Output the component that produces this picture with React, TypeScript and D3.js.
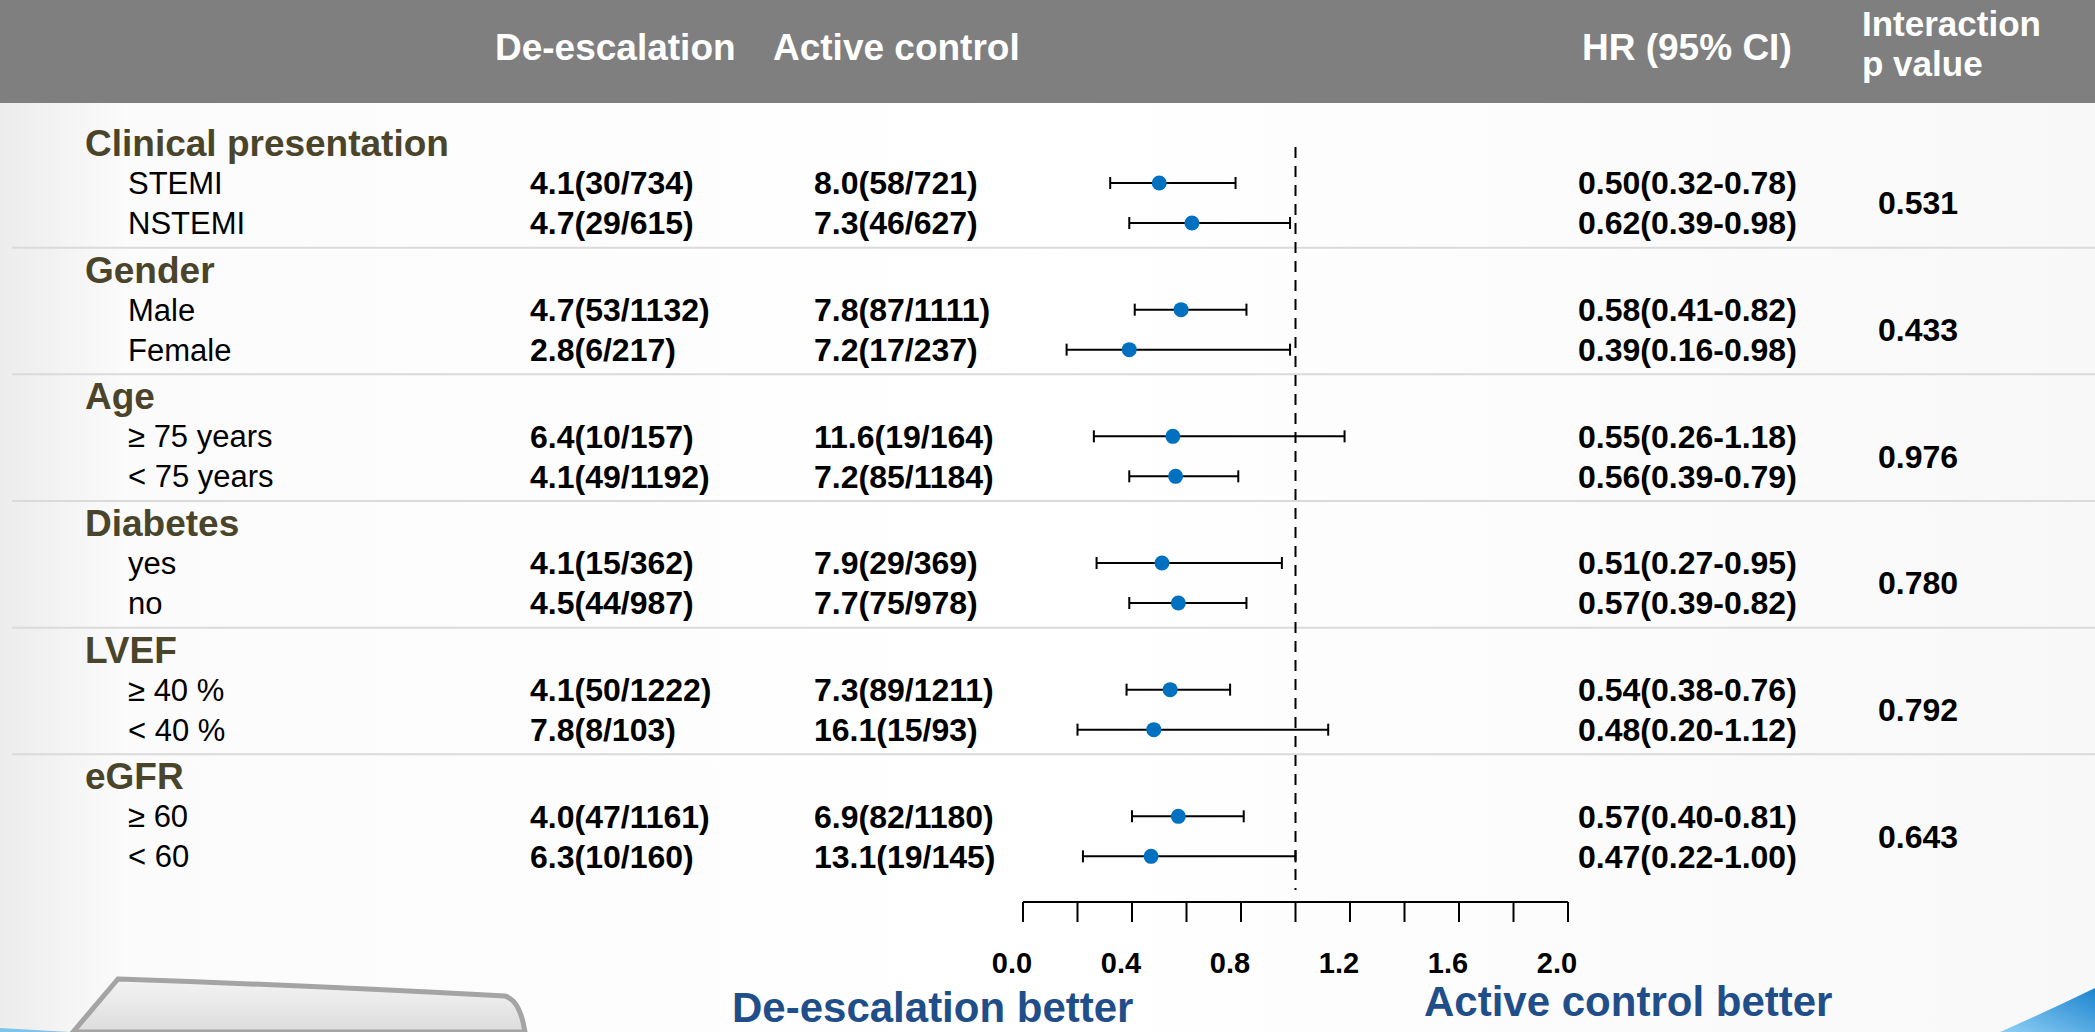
import { scaleBand, scaleLinear, scalePoint } from "d3";

// ---- data ----
const groups = ["Clinical presentation", "Gender", "Age", "Diabetes", "LVEF", "eGFR"];
const subgroups = [
  ["STEMI", "NSTEMI"],
  ["Male", "Female"],
  ["≥ 75 years", "< 75 years"],
  ["yes", "no"],
  ["≥ 40 %", "< 40 %"],
  ["≥ 60", "< 60"],
];
const deEscalation = [
  "4.1(30/734)", "4.7(29/615)",
  "4.7(53/1132)", "2.8(6/217)",
  "6.4(10/157)", "4.1(49/1192)",
  "4.1(15/362)", "4.5(44/987)",
  "4.1(50/1222)", "7.8(8/103)",
  "4.0(47/1161)", "6.3(10/160)",
];
const activeControl = [
  "8.0(58/721)", "7.3(46/627)",
  "7.8(87/1111)", "7.2(17/237)",
  "11.6(19/164)", "7.2(85/1184)",
  "7.9(29/369)", "7.7(75/978)",
  "7.3(89/1211)", "16.1(15/93)",
  "6.9(82/1180)", "13.1(19/145)",
];
const hr = [0.5, 0.62, 0.58, 0.39, 0.55, 0.56, 0.51, 0.57, 0.54, 0.48, 0.57, 0.47];
const ciLow = [0.32, 0.39, 0.41, 0.16, 0.26, 0.39, 0.27, 0.39, 0.38, 0.2, 0.4, 0.22];
const ciHigh = [0.78, 0.98, 0.82, 0.98, 1.18, 0.79, 0.95, 0.82, 0.76, 1.12, 0.81, 1.0];
const pInteraction = ["0.531", "0.433", "0.976", "0.780", "0.792", "0.643"];
const tickLabels = [0, 0.4, 0.8, 1.2, 1.6, 2.0];

const WIDTH = 2095;
const HEIGHT = 1032;
const FONT = "'Liberation Sans', Arial, Helvetica, sans-serif";
const HEADER_H = 103;
const GRAY = "#7f7f7f";
const OLIVE = "#4a452a";
const BLUE = "#0070c0";
const NAVY = "#1f4e89";
const RULE = "#dadada";

const COL = { heading: 85, label: 128, deEsc: 530, active: 814, hr: 1578, p: 1878 };

export default function App() {
  const x = scaleLinear().domain([0, 2]).range([1023, 1568]);
  const groupY = scaleBand<string>().domain(groups).range([121, 881]).padding(0);
  const innerY = scalePoint<string>().domain(["heading", "row0", "row1"]).range([22, 102]);

  const axisY = 902;
  const tickLen = 20;
  const dashTop = 147;
  const dashBottom = 890;

  return (
    <svg
      width={WIDTH}
      height={HEIGHT}
      viewBox={`0 0 ${WIDTH} ${HEIGHT}`}
      style={{ position: "absolute", left: 0, top: 0, display: "block" }}
      fontFamily={FONT}
    >
      <defs>
        <linearGradient id="bg" x1="0" x2="1" y1="0" y2="0">
          <stop offset="0" stopColor="#ececec" />
          <stop offset="0.06" stopColor="#fbfbfb" />
          <stop offset="0.5" stopColor="#ffffff" />
          <stop offset="1" stopColor="#f8f8f8" />
        </linearGradient>
        <linearGradient id="device" x1="0" x2="0" y1="0" y2="1">
          <stop offset="0" stopColor="#f4f4f4" />
          <stop offset="1" stopColor="#dcdcdc" />
        </linearGradient>
        <linearGradient id="swoosh" x1="0" x2="1" y1="1" y2="0">
          <stop offset="0" stopColor="#8fd0f5" />
          <stop offset="1" stopColor="#1c84cf" />
        </linearGradient>
      </defs>

      <rect x={0} y={0} width={WIDTH} height={HEIGHT} fill="url(#bg)" />

      {/* decorations at the bottom of the slide */}
      <path d="M73,1032 L118,979 Q300,985 505,996 Q520,1000 525,1032 Z" fill="url(#device)" stroke="#a4a4a4" strokeWidth={5} />
      <path d="M0,1028 L70,1032 L0,1032 Z" fill="#7ec3ea" />
      <path d="M2000,1032 Q2050,1010 2095,988 L2095,1032 Z" fill="url(#swoosh)" />

      {/* header band */}
      <rect x={0} y={0} width={WIDTH} height={HEADER_H} fill={GRAY} />
      <g fill="#ffffff" fontWeight="bold" fontSize={37}>
        <text x={495} y={60}>De-escalation</text>
        <text x={773} y={60}>Active control</text>
        <text x={1582} y={60}>HR (95% CI)</text>
      </g>
      <g fill="#ffffff" fontWeight="bold" fontSize={35}>
        <text x={1862} y={36}>Interaction</text>
        <text x={1862} y={76}>p value</text>
      </g>

      {/* group separators */}
      {groups.slice(1).map((g) => (
        <line key={g} x1={12} x2={WIDTH} y1={groupY(g)} y2={groupY(g)} stroke={RULE} strokeWidth={2} />
      ))}

      {/* reference line at HR = 1 */}
      <line x1={x(1)} x2={x(1)} y1={dashTop} y2={dashBottom} stroke="#000" strokeWidth={2} strokeDasharray="11 8" />

      {groups.map((g, gi) => {
        const top = groupY(g) ?? 0;
        const headY = top + (innerY("heading") ?? 0);
        const rowYs = [top + (innerY("row0") ?? 0), top + (innerY("row1") ?? 0)];
        return (
          <g key={g}>
            <text x={COL.heading} y={headY} dy="0.35em" fontSize={37} fontWeight="bold" fill={OLIVE}>
              {g}
            </text>
            {rowYs.map((cy, ri) => {
              const i = gi * 2 + ri;
              return (
                <g key={ri}>
                  <text x={COL.label} y={cy} dy="0.35em" fontSize={31} fill="#000">
                    {subgroups[gi][ri]}
                  </text>
                  <g fontSize={32} fontWeight="bold" fill="#000">
                    <text x={COL.deEsc} y={cy} dy="0.35em">{deEscalation[i]}</text>
                    <text x={COL.active} y={cy} dy="0.35em">{activeControl[i]}</text>
                    <text x={COL.hr} y={cy} dy="0.35em">
                      {`${hr[i].toFixed(2)}(${ciLow[i].toFixed(2)}-${ciHigh[i].toFixed(2)})`}
                    </text>
                  </g>
                  {/* CI whisker */}
                  <line x1={x(ciLow[i])} x2={x(ciHigh[i])} y1={cy} y2={cy} stroke="#000" strokeWidth={2} />
                  <line x1={x(ciLow[i])} x2={x(ciLow[i])} y1={cy - 6} y2={cy + 6} stroke="#000" strokeWidth={2} />
                  <line x1={x(ciHigh[i])} x2={x(ciHigh[i])} y1={cy - 6} y2={cy + 6} stroke="#000" strokeWidth={2} />
                  <circle cx={x(hr[i])} cy={cy} r={7.5} fill={BLUE} />
                </g>
              );
            })}
            <text
              x={COL.p}
              y={(rowYs[0] + rowYs[1]) / 2}
              dy="0.35em"
              fontSize={32}
              fontWeight="bold"
              fill="#000"
            >
              {pInteraction[gi]}
            </text>
          </g>
        );
      })}

      {/* x axis: ticks hang below the line */}
      <line x1={x(0)} x2={x(2)} y1={axisY} y2={axisY} stroke="#000" strokeWidth={2} />
      {x.ticks(10).map((t) => (
        <line key={t} x1={x(t)} x2={x(t)} y1={axisY} y2={axisY + tickLen} stroke="#000" strokeWidth={2} />
      ))}
      {tickLabels.map((t) => (
        <text key={t} x={x(t) - 11} y={973} textAnchor="middle" fontSize={29} fontWeight="bold" fill="#000">
          {t.toFixed(1)}
        </text>
      ))}

      <g fontSize={42} fontWeight="bold" fill={NAVY}>
        <text x={732} y={1022}>De-escalation better</text>
        <text x={1424} y={1016}>Active control better</text>
      </g>
    </svg>
  );
}
